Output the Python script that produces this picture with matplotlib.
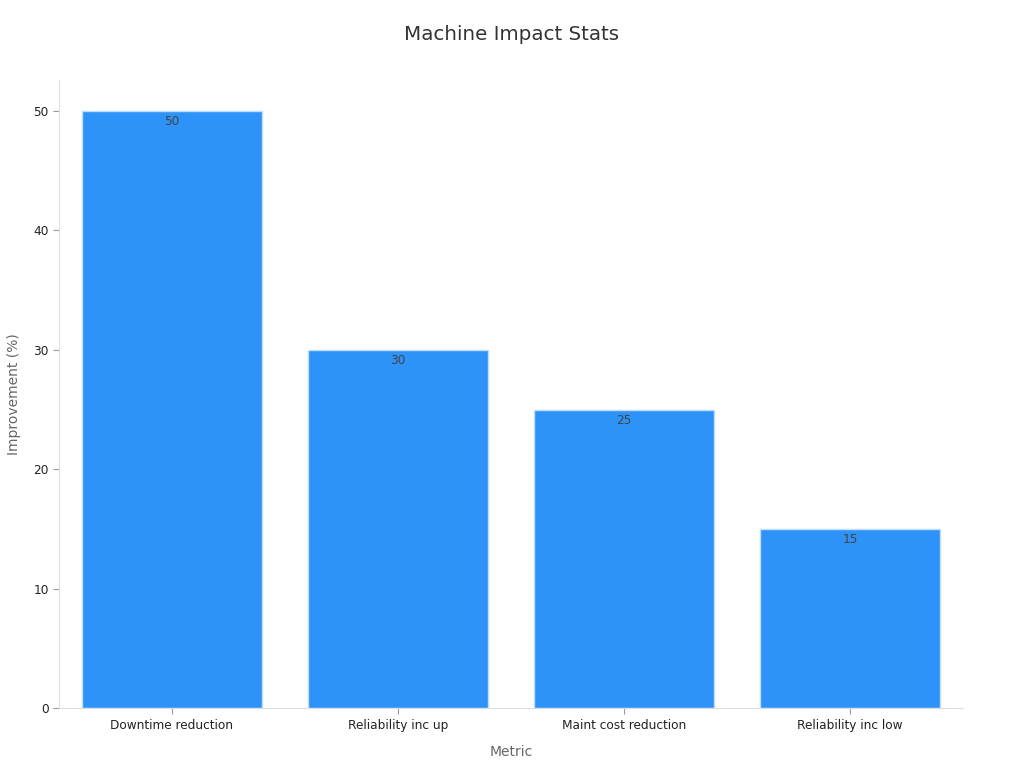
import matplotlib
matplotlib.use("Agg")
import matplotlib.pyplot as plt

categories = ["Downtime reduction", "Reliability inc up", "Maint cost reduction", "Reliability inc low"]
values = [50, 30, 25, 15]

fig = plt.figure(figsize=(10.24, 7.68), dpi=100)
ax = fig.add_axes([0.0576, 0.078, 0.8828, 0.818])

x = range(len(categories))
bars = ax.bar(x, values, width=0.8, color="#2E93F9", edgecolor="#BFDDFB", linewidth=1)

for b, v in zip(bars, values):
    ax.text(b.get_x() + b.get_width() / 2, v - 0.35, f"{v}", ha="center", va="top",
            fontsize=8.7, color="#444444")

ax.set_xlim(-0.5, 3.5)
ax.set_ylim(0, 52.6)
ax.set_yticks([0, 10, 20, 30, 40, 50])
ax.set_xticks(list(x))
ax.set_xticklabels(categories)
ax.tick_params(axis="both", labelsize=8.7, colors="#222222", length=4)
ax.tick_params(axis="both", color="#999999")
ax.tick_params(axis="x", pad=4)

for s in ["top", "right"]:
    ax.spines[s].set_visible(False)
for s in ["left", "bottom"]:
    ax.spines[s].set_color("#DDDDDD")

ax.set_xlabel("Metric", fontsize=10, color="#666666", labelpad=9)
ax.set_ylabel("Improvement (%)", fontsize=10, color="#666666", labelpad=9)
fig.suptitle("Machine Impact Stats", fontsize=14.3, color="#333333", y=0.968)

fig.savefig("out.png", dpi=100)
